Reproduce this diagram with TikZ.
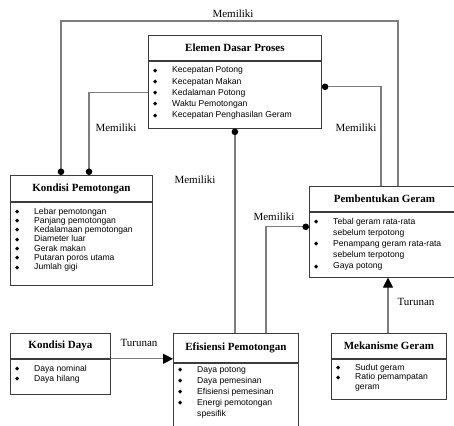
\documentclass[tikz,border=0pt]{standalone}
\usepackage{fontspec}
\setmainfont{Liberation Serif}
\newfontfamily\listfont{Liberation Sans}
\newfontfamily\symfont{DejaVu Sans}
\usetikzlibrary{arrows.meta}
\definecolor{linegray}{RGB}{125,125,125}
\definecolor{boxline}{RGB}{60,60,60}
\newcommand{\dia}{\makebox[19pt][l]{\symfont\fontsize{5.5}{5.5}\selectfont\raisebox{0.7pt}{◆}}}
\newcommand{\cont}{\hspace*{19pt}}
\newcommand{\itemlist}[1]{\begin{tabular}[t]{@{}l@{}}#1\end{tabular}}

\begin{document}
\begin{tikzpicture}[
	x=1pt, y=-1pt,
	titlebox/.style={shape=rectangle, draw=boxline, line width=0.8pt, anchor=north west, inner sep=0pt, font=\bfseries\fontsize{11}{13}\selectfont},
	bodybox/.style={shape=rectangle, draw=boxline, line width=0.8pt, anchor=north west, inner sep=0pt},
	items/.style={anchor=base west, inner sep=0pt, font=\listfont\fontsize{8.6}{#1}\selectfont},
	items/.default=11.2,
	conn/.style={draw=linegray, line width=1.2pt},
	has/.style={conn, -{Circle[length=6.5pt, color=black]}},
	hasfrom/.style={conn, {Circle[length=6.5pt, color=black]}-},
	derive/.style={conn, -{Triangle[length=10pt, width=10pt, color=black]}},
	rel/.style={font=\fontsize{11}{13}\selectfont, inner sep=1pt},
]
\useasboundingbox (0,0) rectangle (454,425);

% Elemen Dasar Proses
\node[titlebox, minimum width=173pt, minimum height=25pt] (edpT) at (148,35) {Elemen Dasar Proses};
\node[bodybox, minimum width=173pt, minimum height=67pt] (edpB) at (edpT.south west) {};
\node[items=11.2] (edpL) at (153,73) {\itemlist{\dia Kecepatan Potong\\ \dia Kecepatan Makan\\ \dia Kedalaman Potong\\ \dia Waktu Pemotongan\\ \dia Kecepatan Penghasilan Geram}};

% Kondisi Pemotongan
\node[titlebox, minimum width=142pt, minimum height=26pt] (kpT) at (10,175) {Kondisi Pemotongan};
\node[bodybox, minimum width=142pt, minimum height=83pt] (kpB) at (kpT.south west) {};
\node[items=9.3] (kpL) at (15,214) {\itemlist{\dia Lebar pemotongan\\ \dia Panjang pemotongan\\ \dia Kedalamaan pemotongan\\ \dia Diameter luar\\ \dia Gerak makan\\ \dia Putaran poros utama\\ \dia Jumlah gigi}};

% Pembentukan Geram
\node[titlebox, minimum width=150pt, minimum height=25pt] (pgT) at (309,186) {Pembentukan Geram};
\node[bodybox, minimum width=150pt, minimum height=65pt] (pgB) at (pgT.south west) {};
\node[items=11.2] (pgL) at (314,224) {\itemlist{\dia Tebal geram rata-rata\\ \cont sebelum terpotong\\ \dia Penampang geram rata-rata\\ \cont sebelum terpotong\\ \dia Gaya potong}};

% Kondisi Daya
\node[titlebox, minimum width=100pt, minimum height=25pt] (kdT) at (10,333) {Kondisi Daya};
\node[bodybox, minimum width=100pt, minimum height=35pt] (kdB) at (kdT.south west) {};
\node[items=10.6] (kdL) at (15,371) {\itemlist{\dia Daya nominal\\ \dia Daya hilang}};

% Efisiensi Pemotongan
\node[titlebox, minimum width=125pt, minimum height=29pt] (epT) at (173,333) {Efisiensi Pemotongan};
\node[bodybox, minimum width=125pt, minimum height=72pt] (epB) at (epT.south west) {};
\node[items=11] (epL) at (178,372) {\itemlist{\dia Daya potong\\ \dia Daya pemesinan\\ \dia Efisiensi pemesinan\\ \dia Energi pemotongan\\ \cont spesifik}};

% Mekanisme Geram
\node[titlebox, minimum width=115pt, minimum height=25pt] (mgT) at (331,333) {Mekanisme Geram};
\node[bodybox, minimum width=115pt, minimum height=40pt] (mgB) at (mgT.south west) {};
\node[items=9.7] (mgL) at (336,370) {\itemlist{\dia Sudut geram\\ \dia Ratio pemampatan\\ \cont geram}};

% relasi
\coordinate (loop) at (233,21);
\draw[has] ([xshift=89pt]pgT.north west) |- (loop) -| ([xshift=51pt]kpT.north west);
\draw[has] ([yshift=-32pt]edpB.north west) -| ([xshift=79pt]kpT.north west);
\draw[hasfrom] ([yshift=-26pt]edpB.north east) -| ([xshift=72pt]pgT.north west);
\draw[hasfrom] (edpB.south) -- (edpB.south |- epT.north);
\draw[hasfrom] ([yshift=-15pt]pgB.north west) -| ([xshift=93pt]epT.north west);
\draw[derive] (kdT.south east) -- (kdT.south east -| epT.west);
\draw[derive] ([xshift=57pt]mgT.north west) -- ([xshift=57pt]mgT.north west |- pgB.south);

\node[rel] (m1) at (233,14) {Memiliki};
\node[rel] (m2) at (116,128) {Memiliki};
\node[rel] (m3) at (356,128) {Memiliki};
\node[rel] (m4) at (195,180) {Memiliki};
\node[rel] (m5) at (274,217) {Memiliki};
\node[rel] (t1) at (139,343) {Turunan};
\node[rel] (t2) at (416,302) {Turunan};
\end{tikzpicture}
\end{document}
